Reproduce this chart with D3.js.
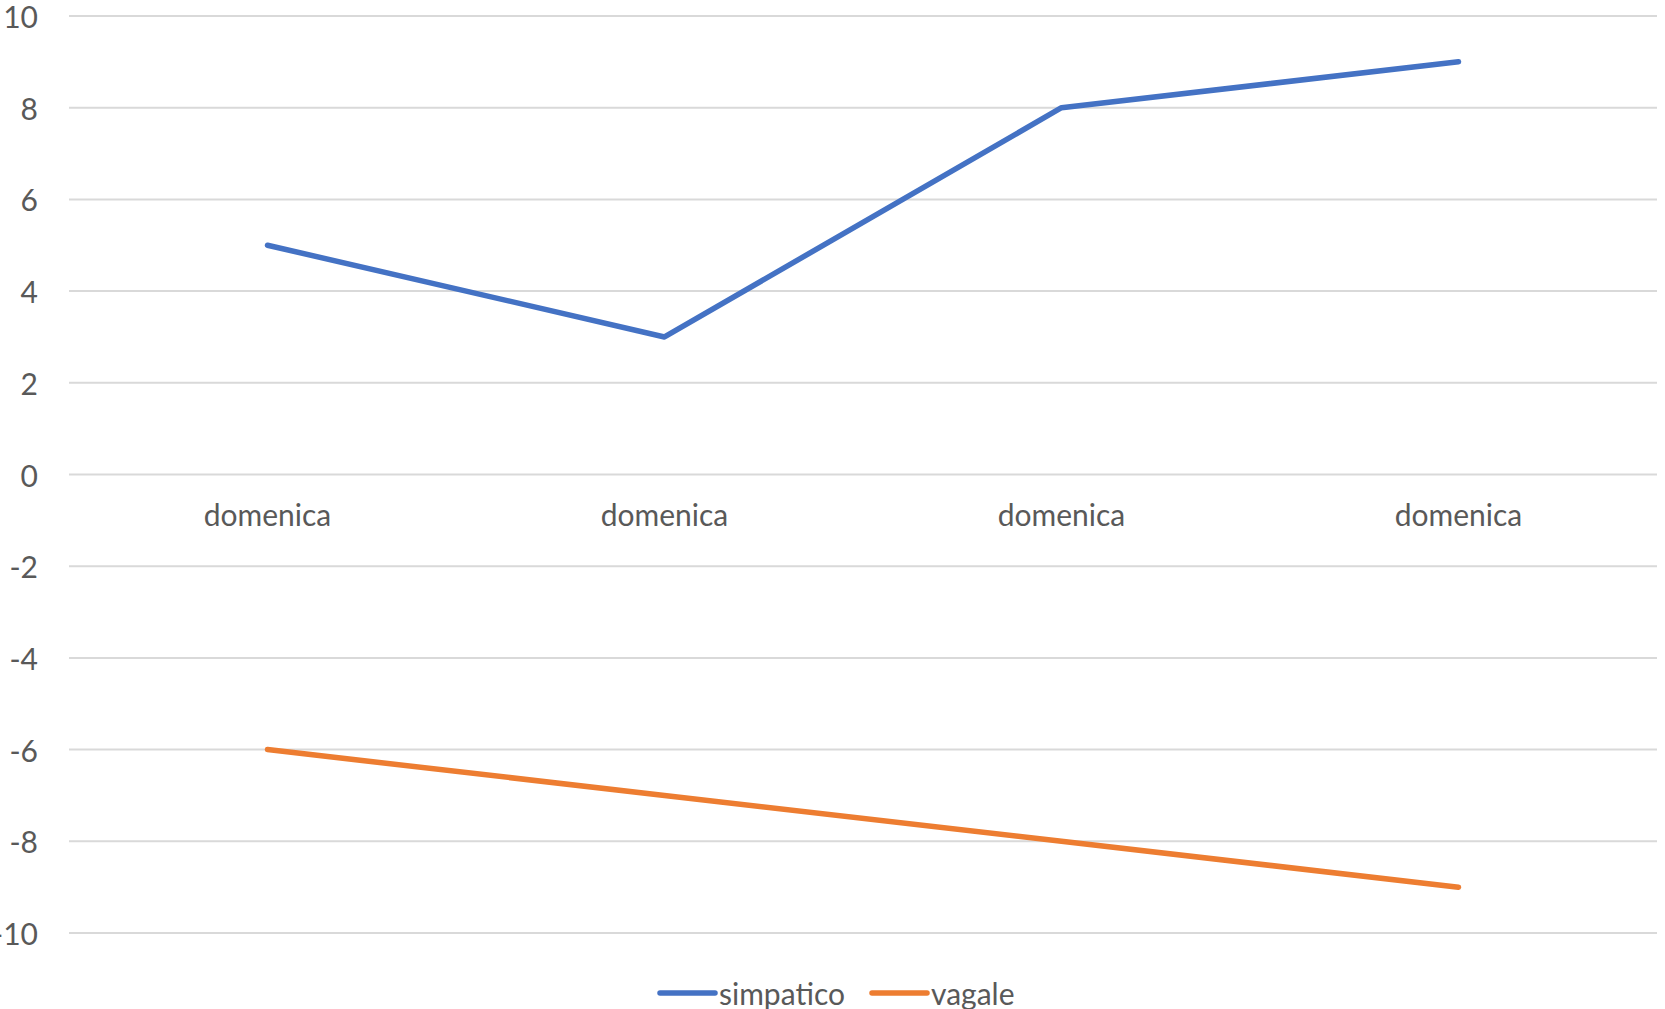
<!DOCTYPE html>
<html>
<head>
<meta charset="utf-8">
<script src="https://cdn.jsdelivr.net/npm/d3@7"></script>
<style>
html,body{margin:0;padding:0;background:#fff;}
svg{display:block;}
text{font-family:Lato, "Open Sans", sans-serif;fill:#595959;}
</style>
</head>
<body>
<svg id="chart" width="1665" height="1009"></svg>
<script>
const categories = ["domenica","domenica","domenica","domenica"];
const simpatico = [5,3,8,9];
const vagale = [-6,-7,-8,-9];
const yTicks = [10,8,6,4,2,0,-2,-4,-6,-8,-10];
const seriesNames = ["simpatico","vagale"];
const seriesColors = ["#4472C4","#ED7D31"];

const plotL = 69, plotR = 1657, plotT = 16, plotB = 933;
const fontSize = 30;

const svg = d3.select("#chart");
const x = d3.scaleBand().domain(d3.range(categories.length)).range([plotL, plotR]);
const y = d3.scaleLinear().domain([-10, 10]).range([plotB, plotT]);

// gridlines
svg.append("g").selectAll("line").data(yTicks).join("line")
  .attr("x1", plotL).attr("x2", plotR)
  .attr("y1", d => y(d)).attr("y2", d => y(d))
  .attr("stroke", "#D9D9D9").attr("stroke-width", 2);

// y labels
svg.append("g").selectAll("text").data(yTicks).join("text")
  .attr("x", 38).attr("y", d => y(d))
  .attr("text-anchor", "end").attr("dominant-baseline", "central")
  .style("font-size", fontSize + "px")
  .text(d => d);

// x labels (below the zero line)
svg.append("g").selectAll("text").data(categories).join("text")
  .attr("x", (d, i) => x(i) + x.bandwidth() / 2)
  .attr("y", y(0) + 51)
  .attr("text-anchor", "middle")
  .style("font-size", fontSize + "px")
  .text(d => d);

// lines
const line = d3.line().x((d, i) => x(i) + x.bandwidth() / 2).y(d => y(d));
[simpatico, vagale].forEach((s, k) => {
  svg.append("path").datum(s)
    .attr("d", line)
    .attr("fill", "none")
    .attr("stroke", seriesColors[k])
    .attr("stroke-width", 5.5)
    .attr("stroke-linecap", "round")
    .attr("stroke-linejoin", "round");
});

// legend
const legendY = 993;
const legendStarts = [660, 872];
const lg = svg.append("g");
seriesNames.forEach((name, k) => {
  lg.append("line")
    .attr("x1", legendStarts[k]).attr("x2", legendStarts[k] + 55)
    .attr("y1", legendY).attr("y2", legendY)
    .attr("stroke", seriesColors[k]).attr("stroke-width", 5.5)
    .attr("stroke-linecap", "round");
  lg.append("text")
    .attr("x", legendStarts[k] + 59).attr("y", legendY)
    .attr("dominant-baseline", "central")
    .style("font-size", fontSize + "px")
    .text(name);
});
</script>
</body>
</html>
